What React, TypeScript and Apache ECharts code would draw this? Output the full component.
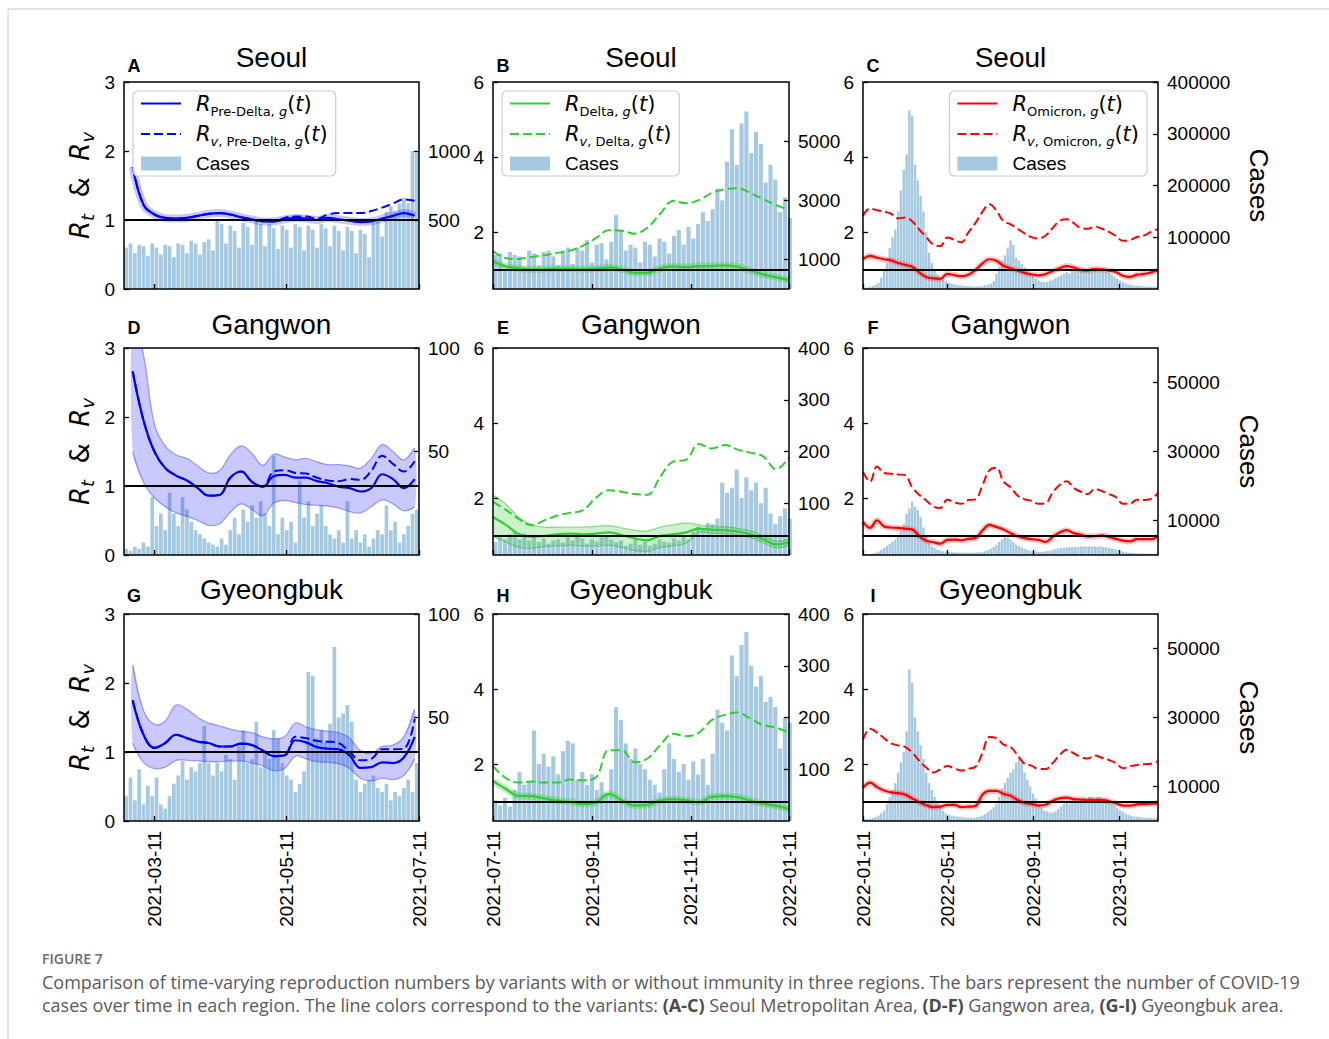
import React, { useEffect, useRef } from 'react';
import * as echarts from 'echarts';

const DAY = 86400000;
const ts = (s: string) => { const [y, m, d] = s.split('-').map(Number); return Date.UTC(y, m - 1, d); };
const fmtDate = (v: number) => { const d = new Date(v); const p = (n: number) => String(n).padStart(2, '0'); return `${d.getUTCFullYear()}-${p(d.getUTCMonth() + 1)}-${p(d.getUTCDate())}`; };

// ---------- x ranges and date ticks ----------
const rangePreDelta = ['2021-02-25', '2021-07-11'];
const rangeDelta = ['2021-07-11', '2022-01-11'];
const rangeOmicron = ['2022-01-11', '2023-03-07'];
const ticksPreDelta = ['2021-03-11', '2021-05-11', '2021-07-11'];
const ticksDelta = ['2021-07-11', '2021-09-11', '2021-11-11', '2022-01-11'];
const ticksOmicron = ['2022-01-11', '2022-05-11', '2022-09-11', '2023-01-11'];

// sampling of the read values (start date, step in days)
const barStartPreDelta = '2021-02-25'; const barStepPreDelta = 2;
const barStartDelta = '2021-07-11'; const barStepDelta = 3;
const barStartOmicron = '2022-01-11'; const barStepOmicron = 4;
const lineStartPreDelta = '2021-03-01'; const lineStepPreDelta = 5;
const lineStartDelta = '2021-07-11'; const lineStepDelta = 8;
const lineStartOmicron = '2022-01-11'; const lineStepOmicron = 10;

// ---------- y ticks ----------
const rTicksPreDelta = [0, 1, 2, 3];
const rTicksLater = [2, 4, 6];
const caseTicksA = [500, 1000];
const caseTicksDG = [50, 100];
const caseTicksB = [1000, 3000, 5000];
const caseTicksEH = [100, 200, 300, 400];
const caseTicksC = [100000, 200000, 300000, 400000];
const caseTicksFI = [10000, 30000, 50000];

// ---------- cases (bars) ----------
const casesA = [300,330,260,320,310,240,330,300,250,320, 310,230,330,320,260,350,330,250,340,360, 280,500,470,330,460,420,300,480,450,320, 500,470,310,470,440,290,460,430,300,470, 450,280,460,430,300,470,440,310,460,420, 280,450,420,260,430,400,230,480,500,380, 560,600,560,620,660,620,1000,990];
const casesD = [3,2,4,3,6,4,28,14,20,12, 30,20,14,28,22,16,12,10,8,6, 5,4,8,5,12,18,10,22,16,24, 18,26,20,14,48,10,18,12,16,6, 36,18,26,14,20,24,14,10,8,12, 6,26,8,12,6,10,4,8,12,10, 24,12,16,6,10,14,20,22];
const casesG = [12,21,10,25,8,17,12,21,8,6, 12,18,22,29,20,26,24,28,46,28, 22,28,24,32,30,20,36,44,28,30, 48,26,34,30,44,40,28,22,20,14, 18,24,72,70,40,44,38,47,84,50, 52,56,48,20,14,18,20,22,16,14, 18,10,14,12,16,20,14,28];
const casesB = [1150,1200,700,1250,1150,1100,750,1300,1200,800, 1250,1300,1100,800,1300,1400,850,1400,1300,1650, 900,1500,1550,1000,1600,2500,2000,1300,1500,1400, 900,1600,1500,1100,1700,1600,1200,1800,2000,1500, 2100,1700,2200,2600,2300,2700,3400,3000,4300,5400, 4200,5600,6000,4600,5300,4900,3600,4200,3700,2600, 3100,2400];
const casesE = [25,35,30,40,45,30,42,28,35,25, 32,22,28,30,24,36,28,40,32,22, 30,26,34,36,30,25,28,18,22,30, 20,26,18,22,30,26,24,32,28,36, 30,45,55,50,62,60,70,140,120,130, 165,110,150,125,140,100,130,80,60,75, 90,70];
const casesH = [40,30,45,28,60,95,70,75,175,110, 130,105,125,90,135,155,150,80,95,70, 90,60,75,50,100,220,195,150,120,140, 110,100,80,70,55,100,150,120,95,110, 80,115,90,120,70,130,215,190,175,320, 280,340,365,300,260,280,230,240,220,140, 200,190];
const casesC = [2000,3000,4000,6000,8000,12000,22000,35000,50000,80000, 100000,115000,150000,190000,230000,260000,345000,335000,240000,210000, 180000,150000,110000,70000,50000,35000,28000,22000,18000,15000, 13000,10000,9000,8000,7000,6500,6000,5500,5000,5000, 5000,5500,6000,7000,8000,10000,15000,30000,42000,55000, 65000,80000,94000,85000,60000,55000,48000,42000,35000,30000, 25000,20000,16000,14000,13000,14000,16000,18000,21000,24000, 27000,30000,33000,30000,35000,37000,34000,38000,40000,36000, 40000,42000,38000,40000,38000,36000,36000,32000,28000,24000, 20000,16000,13000,11000,9000,8000,7000,6500,6000,5500, 5000,5000,4500,4500,4000];
const casesF = [200,250,300,400,600,1000,1500,2000,2600,3200, 3800,4400,5500,7000,9000,12000,13500,15500,14000,13000, 11000,8000,5500,3500,2500,2000,1600,1300,1100,1000, 900,800,800,700,700,700,700,700,700,700, 700,800,900,1100,1400,1800,2300,3000,3800,4500, 5500,5000,4500,3800,3000,2600,2200,1800,1500,1300, 1100,1000,900,900,1000,1100,1300,1500,1700,1900, 2000,2100,2200,2300,2200,2400,2300,2500,2400,2500, 2500,2400,2500,2400,2500,2300,2300,2100,1900,1700, 1400,1200,1000,800,700,600,600,500,500,500, 400,400,400,400,400];
const casesI = [500,600,700,900,1200,1600,2200,3000,5000,7000, 9000,11000,14000,17000,20000,26000,44000,40000,30000,26000, 22000,18000,14000,11000,9000,7000,5500,4500,3000,2200, 1800,1600,1400,1300,1200,1100,1000,1000,1000,1000, 1100,1300,1600,2000,2600,3200,4000,5000,7000,9500, 11000,12500,14000,15000,17000,19000,17000,14000,12000,10000, 8000,6500,5000,4000,3000,2800,2500,2500,2800,3500, 4200,5000,5500,5000,6000,6200,5800,6500,6800,6200, 7000,7000,6500,7000,6800,6200,6500,5800,5000,4500, 3800,3200,2700,2200,1800,1500,1300,1200,1100,1000, 1000,900,900,800,800];

// ---------- reproduction numbers ----------
const rA = [1.77,1.22,1.08,1.03,1.02,1.03,1.06,1.09,1.10,1.08,1.04,1.01,0.98,0.98,1.01,1.03,1.02,1.00,1.03,1.01,0.99,0.97,0.98,1.02,1.06,1.10,1.06];
const rvA = [1.77,1.22,1.08,1.03,1.02,1.03,1.06,1.09,1.10,1.08,1.04,1.01,0.98,0.98,1.03,1.05,1.05,1.02,1.08,1.10,1.10,1.10,1.13,1.18,1.24,1.30,1.28];
const rD = [2.66,1.95,1.50,1.26,1.15,1.08,0.97,0.86,0.87,1.12,1.21,1.06,0.99,1.14,1.16,1.12,1.12,1.07,1.04,0.99,0.97,0.92,0.97,1.17,1.10,0.97,1.10];
const rvD = [2.66,1.95,1.50,1.26,1.15,1.08,0.97,0.86,0.87,1.12,1.21,1.06,0.99,1.21,1.23,1.19,1.18,1.12,1.08,1.07,1.10,1.09,1.22,1.44,1.32,1.21,1.36];
const hiD = [3.5,2.9,1.9,1.58,1.45,1.40,1.29,1.19,1.22,1.45,1.58,1.47,1.30,1.46,1.42,1.38,1.40,1.35,1.31,1.31,1.29,1.26,1.40,1.60,1.50,1.38,1.55];
const loD = [1.50,1.05,0.83,0.70,0.61,0.56,0.50,0.43,0.45,0.62,0.74,0.66,0.57,0.75,0.79,0.76,0.73,0.72,0.71,0.68,0.63,0.61,0.70,0.80,0.74,0.64,0.70];
const rG = [1.75,1.25,1.06,1.13,1.25,1.20,1.15,1.13,1.08,1.08,1.12,1.10,1.02,0.94,0.95,1.17,1.14,1.07,1.05,1.04,0.95,0.77,0.78,0.85,0.84,0.92,1.22];
const rvG = [1.75,1.25,1.06,1.13,1.25,1.20,1.15,1.13,1.08,1.08,1.12,1.10,1.02,0.94,0.95,1.22,1.20,1.16,1.15,1.13,1.00,0.88,0.90,1.04,1.04,1.05,1.48];
const hiG = [2.26,1.60,1.40,1.45,1.68,1.62,1.50,1.42,1.38,1.33,1.30,1.28,1.22,1.19,1.22,1.42,1.36,1.32,1.30,1.28,1.20,1.02,0.98,1.08,1.10,1.22,1.62];
const loG = [1.13,0.85,0.76,0.78,0.88,0.88,0.87,0.86,0.86,0.87,0.87,0.84,0.80,0.73,0.76,0.94,0.90,0.86,0.85,0.83,0.76,0.62,0.58,0.62,0.60,0.66,0.90];

const rB = [1.24,1.10,1.05,1.02,1.03,1.04,1.04,1.03,1.04,1.07,1.02,0.93,0.93,1.05,1.10,1.08,1.11,1.11,1.13,1.09,0.99,0.89,0.81,0.74];
const rvB = [1.51,1.32,1.30,1.35,1.40,1.46,1.52,1.65,1.85,2.06,2.05,1.97,2.13,2.50,2.84,2.78,2.86,3.05,3.15,3.18,3.05,2.89,2.73,2.60];
const rE = [1.51,1.30,1.06,0.98,1.01,1.05,1.07,1.05,1.07,1.10,1.03,0.94,0.89,1.01,1.05,1.10,1.20,1.17,1.16,1.12,1.05,0.92,0.78,0.84];
const rvE = [1.91,1.70,1.46,1.29,1.42,1.55,1.62,1.69,2.02,2.22,2.18,2.12,2.10,2.58,2.98,3.03,3.45,3.33,3.42,3.30,3.22,3.12,2.78,3.10];
const hiE = [2.08,1.85,1.50,1.30,1.24,1.24,1.24,1.24,1.26,1.28,1.22,1.16,1.14,1.24,1.30,1.35,1.30,1.26,1.25,1.21,1.14,1.01,0.87,0.92];
const loE = [1.00,0.85,0.70,0.68,0.72,0.74,0.76,0.74,0.74,0.76,0.70,0.62,0.60,0.70,0.74,0.82,1.10,1.08,1.07,1.03,0.96,0.83,0.69,0.76];
const rH = [1.56,1.35,1.17,1.16,1.10,1.04,1.01,0.95,0.99,1.22,1.05,0.91,0.93,1.04,1.08,1.05,1.00,1.14,1.16,1.13,1.04,0.96,0.90,0.82];
const rvH = [1.96,1.64,1.52,1.55,1.52,1.52,1.60,1.58,1.66,2.38,2.38,2.06,2.16,2.52,2.82,2.75,2.85,3.18,3.32,3.38,3.22,3.05,2.98,2.85];

const rC = [1.29,1.38,1.33,1.29,1.26,1.19,1.14,1.09,0.94,0.82, 0.78,0.77,0.90,0.87,0.84,0.88,1.00,1.18,1.29,1.25, 1.12,1.05,0.99,0.93,0.89,0.86,0.90,0.98,1.05,1.11, 1.07,1.01,0.99,1.03,1.02,0.99,0.95,0.85,0.82,0.88, 0.90,0.94,0.99];
const rvC = [2.44,2.64,2.59,2.55,2.50,2.38,2.40,2.30,2.08,1.88, 1.68,1.64,1.87,1.81,1.74,2.00,2.25,2.55,2.75,2.58, 2.30,2.22,2.10,1.98,1.88,1.84,1.92,2.12,2.31,2.35, 2.25,2.12,2.10,2.16,2.10,2.02,1.91,1.78,1.80,1.88, 1.92,2.02,2.09];
const rF = [1.38,1.22,1.42,1.26,1.23,1.22,1.20,1.18,1.00,0.88, 0.84,0.80,0.90,0.91,0.89,0.93,0.95,1.15,1.30,1.24, 1.18,1.08,1.00,0.95,0.92,0.90,0.85,0.98,1.10,1.16, 1.08,1.04,0.99,1.00,1.02,0.98,0.93,0.88,0.86,0.92, 0.92,0.92,0.99];
const rvF = [2.71,2.45,2.85,2.68,2.66,2.64,2.62,2.30,2.10,1.95, 1.79,1.75,1.97,1.90,1.86,1.96,1.98,2.35,2.75,2.82, 2.45,2.30,2.08,1.98,1.94,1.86,1.88,2.16,2.36,2.46, 2.28,2.18,2.12,2.25,2.20,2.12,2.04,1.86,1.86,1.97, 1.96,1.99,2.14];
const rI = [1.38,1.52,1.40,1.31,1.26,1.24,1.20,1.10,1.00,0.92, 0.87,0.88,0.93,0.93,0.87,0.88,0.90,1.20,1.30,1.30, 1.22,1.17,1.06,0.98,0.95,0.91,0.93,1.04,1.10,1.12, 1.08,1.07,1.06,1.06,1.06,1.03,0.97,0.91,0.91,0.94, 0.95,0.96,0.97];
const rvI = [2.66,2.95,2.85,2.70,2.56,2.51,2.47,2.32,2.10,1.92, 1.79,1.87,1.96,1.90,1.84,1.89,1.94,2.30,2.73,2.70, 2.53,2.47,2.25,2.02,1.97,1.88,1.88,2.04,2.25,2.39, 2.30,2.20,2.16,2.24,2.18,2.12,2.04,1.90,1.96,1.99, 2.01,2.02,2.09];

const regions = ['Seoul', 'Gangwon', 'Gyeongbuk'];
const variants = ['Pre-Delta', 'Delta', 'Omicron'];

// ---------- layout / style ----------
const W = 1329, H = 1039;
const gridLeft = [124, 493, 863];
const gridWidth = [295, 296, 295];
const gridTop = [82, 348, 614];
const gridHeight = 207;
const titleY = [57, 324, 589];
const letterY = [66, 328, 596];
const casesLabelX = [1259, 1249, 1249];
const BAR_COLOR = '#a5c9e1';
const FONT = 'Liberation Sans, Arial, sans-serif';
const MATH = 'DejaVu Sans, sans-serif';
const SMOOTH = 0.4;

const colStyle = [
  { color: '#0000ff', halo: 'rgba(0,0,255,0.22)', fill: 'rgba(40,40,255,0.25)', edge: 'rgba(60,60,255,0.45)', haloW: 8 },
  { color: '#33cc33', halo: 'rgba(50,205,50,0.32)', fill: 'rgba(50,205,50,0.25)', edge: 'rgba(50,190,50,0.5)', haloW: 7 },
  { color: '#ff0000', halo: 'rgba(255,0,0,0.22)', fill: 'rgba(255,0,0,0.2)', edge: 'rgba(255,0,0,0.3)', haloW: 6 },
];

const columns = [
  { range: rangePreDelta, ticks: ticksPreDelta, barStart: barStartPreDelta, barStep: barStepPreDelta, lineStart: lineStartPreDelta, lineStep: lineStepPreDelta, yMin: 0, yMax: 3, yTicks: rTicksPreDelta },
  { range: rangeDelta, ticks: ticksDelta, barStart: barStartDelta, barStep: barStepDelta, lineStart: lineStartDelta, lineStep: lineStepDelta, yMin: 0.5, yMax: 6, yTicks: rTicksLater },
  { range: rangeOmicron, ticks: ticksOmicron, barStart: barStartOmicron, barStep: barStepOmicron, lineStart: lineStartOmicron, lineStep: lineStepOmicron, yMin: 0.5, yMax: 6, yTicks: rTicksLater },
];

const panels = [
  { letter: 'A', row: 0, col: 0, cases: casesA, r: rA, rv: rvA, lo: null, hi: null, caseMax: 1500, caseTicks: caseTicksA },
  { letter: 'B', row: 0, col: 1, cases: casesB, r: rB, rv: rvB, lo: null, hi: null, caseMax: 7000, caseTicks: caseTicksB },
  { letter: 'C', row: 0, col: 2, cases: casesC, r: rC, rv: rvC, lo: null, hi: null, caseMax: 400000, caseTicks: caseTicksC },
  { letter: 'D', row: 1, col: 0, cases: casesD, r: rD, rv: rvD, lo: loD, hi: hiD, caseMax: 100, caseTicks: caseTicksDG },
  { letter: 'E', row: 1, col: 1, cases: casesE, r: rE, rv: rvE, lo: loE, hi: hiE, caseMax: 400, caseTicks: caseTicksEH },
  { letter: 'F', row: 1, col: 2, cases: casesF, r: rF, rv: rvF, lo: null, hi: null, caseMax: 60000, caseTicks: caseTicksFI },
  { letter: 'G', row: 2, col: 0, cases: casesG, r: rG, rv: rvG, lo: loG, hi: hiG, caseMax: 100, caseTicks: caseTicksDG },
  { letter: 'H', row: 2, col: 1, cases: casesH, r: rH, rv: rvH, lo: null, hi: null, caseMax: 400, caseTicks: caseTicksEH },
  { letter: 'I', row: 2, col: 2, cases: casesI, r: rI, rv: rvI, lo: null, hi: null, caseMax: 60000, caseTicks: caseTicksFI },
];

const toPairs = (start: string, step: number, vals: number[], offset = 0) => {
  const t0 = ts(start);
  return vals.map((v, i) => [t0 + (i * step + offset) * DAY, v]);
};

const legendRich: any = {
  g: { width: 10 },
  i: { fontFamily: MATH, fontStyle: 'italic', fontSize: 21, lineHeight: 28, color: '#000' },
  n: { fontFamily: MATH, fontSize: 21, lineHeight: 28, color: '#000' },
  s: { fontFamily: MATH, fontSize: 13, lineHeight: 14, verticalAlign: 'bottom', color: '#000' },
  si: { fontFamily: MATH, fontStyle: 'italic', fontSize: 13, lineHeight: 14, verticalAlign: 'bottom', color: '#000' },
  c: { fontFamily: FONT, fontSize: 19, lineHeight: 28, color: '#000' },
};

function buildOption() {
  const grid: any[] = [], xAxis: any[] = [], yAxis: any[] = [], series: any[] = [], legend: any[] = [];
  panels.forEach((p, idx) => {
    const c = columns[p.col];
    const st = colStyle[p.col];
    grid.push({ left: gridLeft[p.col], top: gridTop[p.row], width: gridWidth[p.col], height: gridHeight, show: true, borderColor: '#000', borderWidth: 1.5, backgroundColor: 'transparent', z: 10 });
    const tickVals = c.ticks.map(ts);
    xAxis.push({
      type: 'value', gridIndex: idx, min: ts(c.range[0]), max: ts(c.range[1]), z: 10, scale: true,
      axisLine: { show: false }, splitLine: { show: false },
      axisTick: { show: true, inside: true, length: 5, customValues: tickVals, lineStyle: { color: '#000', width: 1.3 } },
      axisLabel: { show: p.row === 2, customValues: tickVals, formatter: (v: number) => fmtDate(v), rotate: 90, fontSize: 19, margin: 10, color: '#000', fontFamily: FONT, showMinLabel: true, showMaxLabel: true, hideOverlap: false },
    });
    yAxis.push({
      type: 'value', gridIndex: idx, min: c.yMin, max: c.yMax, position: 'left', z: 10,
      axisLine: { show: false }, splitLine: { show: false },
      axisTick: { show: true, inside: true, length: 5, customValues: c.yTicks, lineStyle: { color: '#000', width: 1.3 } },
      axisLabel: { customValues: c.yTicks, formatter: (v: number) => String(v), fontSize: 19, color: '#000', margin: 9, fontFamily: FONT },
    });
    yAxis.push({
      type: 'value', gridIndex: idx, min: 0, max: p.caseMax, position: 'right', z: 10,
      axisLine: { show: false }, splitLine: { show: false },
      axisTick: { show: true, inside: true, length: 5, customValues: p.caseTicks, lineStyle: { color: '#000', width: 1.3 } },
      axisLabel: { customValues: p.caseTicks, formatter: (v: number) => String(v), fontSize: 19, color: '#000', margin: 9, fontFamily: FONT },
    });
    const totalDays = (ts(c.range[1]) - ts(c.range[0])) / DAY;
    const pxPerDay = gridWidth[p.col] / totalDays;
    series.push({
      type: 'bar', name: 'Cases' + p.letter, xAxisIndex: idx, yAxisIndex: 2 * idx + 1,
      data: toPairs(c.barStart, c.barStep, p.cases, c.barStep / 2),
      barWidth: c.barStep * pxPerDay * 0.86, itemStyle: { color: BAR_COLOR }, z: 1, silent: true,
    });
    if (p.lo && p.hi) {
      const t0 = ts(c.lineStart);
      const lo = p.lo, hi = p.hi;
      const bandData = lo.map((l, i) => [t0 + i * c.lineStep * DAY, l, hi[i]]);
      series.push({
        type: 'custom', name: 'band' + p.letter, xAxisIndex: idx, yAxisIndex: 2 * idx, silent: true, z: 2,
        data: bandData, encode: { x: 0, y: [1, 2] },
        renderItem: (params: any, api: any) => {
          if (params.dataIndex !== 0) return null;
          const up = bandData.map((d) => api.coord([d[0], d[2]]));
          const dn = bandData.map((d) => api.coord([d[0], d[1]]));
          const cs = params.coordSys;
          return {
            type: 'group',
            clipPath: { type: 'rect', shape: { x: cs.x, y: cs.y, width: cs.width, height: cs.height } },
            children: [
              { type: 'polygon', shape: { points: up.concat(dn.slice().reverse()), smooth: 0.3 }, style: { fill: st.fill, stroke: 'none' } },
              { type: 'polyline', shape: { points: up, smooth: SMOOTH }, style: { stroke: st.edge, lineWidth: 1.3, fill: 'none' } },
              { type: 'polyline', shape: { points: dn, smooth: SMOOTH }, style: { stroke: st.edge, lineWidth: 1.3, fill: 'none' } },
            ],
          };
        },
      });
    } else {
      series.push({
        type: 'line', name: 'halo' + p.letter, xAxisIndex: idx, yAxisIndex: 2 * idx,
        data: toPairs(c.lineStart, c.lineStep, p.r), symbol: 'none', smooth: SMOOTH,
        lineStyle: { color: st.halo, width: st.haloW }, z: 2, silent: true,
      });
    }
    series.push({
      type: 'line', name: 'Rv' + p.letter, xAxisIndex: idx, yAxisIndex: 2 * idx,
      data: toPairs(c.lineStart, c.lineStep, p.rv), symbol: 'none', showSymbol: false, smooth: SMOOTH,
      itemStyle: { color: st.color },
      lineStyle: { color: st.color, width: 2, type: [9, 4] }, z: 4, silent: true,
    });
    series.push({
      type: 'line', name: 'R' + p.letter, xAxisIndex: idx, yAxisIndex: 2 * idx,
      data: toPairs(c.lineStart, c.lineStep, p.r), symbol: 'none', showSymbol: false, smooth: SMOOTH,
      itemStyle: { color: st.color },
      lineStyle: { color: st.color, width: 2.2 }, z: 4, silent: true,
      markLine: { silent: true, symbol: ['none', 'none'], label: { show: false }, lineStyle: { color: '#000', width: 2, type: 'solid' }, data: [{ yAxis: 1 }], animation: false },
    });
    if (p.row === 0) {
      const v = variants[p.col];
      const texts: any = {};
      texts['R' + p.letter] = `{g| }{i|R}{s|${v}, }{si|g}{n|(}{i|t}{n|)}`;
      texts['Rv' + p.letter] = `{g| }{i|R}{si|v}{s|, ${v}, }{si|g}{n|(}{i|t}{n|)}`;
      texts['Cases' + p.letter] = `{g| }{c|Cases}`;
      const pos: any = p.col === 2 ? { right: 182 } : { left: p.col === 0 ? 133 : 502 };
      const hideSymbol = { opacity: 0, borderWidth: 0 };
      legend.push({
        ...pos, top: 91, orient: 'vertical', selectedMode: false, z: 20,
        data: [
          { name: 'R' + p.letter, itemStyle: hideSymbol },
          { name: 'Rv' + p.letter, itemStyle: hideSymbol },
          { name: 'Cases' + p.letter, icon: 'rect' },
        ],
        formatter: (name: string) => texts[name],
        textStyle: { rich: legendRich },
        itemWidth: 40, itemHeight: 14, itemGap: 6,
        padding: [2, 8, 3, 7],
        backgroundColor: 'rgba(255,255,255,0.85)', borderColor: '#cccccc', borderWidth: 1.2, borderRadius: 5,
      });
    }
  });

  const graphic: any[] = [];
  graphic.push({ type: 'line', shape: { x1: 8, y1: 9, x2: W, y2: 9 }, style: { stroke: '#c8c8c8', lineWidth: 1 }, silent: true });
  graphic.push({ type: 'line', shape: { x1: 8, y1: 9, x2: 8, y2: H }, style: { stroke: '#c8c8c8', lineWidth: 1 }, silent: true });
  for (let row = 0; row < 3; row++) {
    for (let col = 0; col < 3; col++) {
      const letter = 'ABCDEFGHI'[row * 3 + col];
      graphic.push({ type: 'text', x: gridLeft[col] + gridWidth[col] / 2, y: titleY[row], style: { text: regions[row], font: `28px ${FONT}`, fill: '#000', align: 'center', verticalAlign: 'middle' } });
      graphic.push({ type: 'text', x: gridLeft[col] + 10, y: letterY[row], style: { text: letter, font: `bold 18px ${FONT}`, fill: '#000', align: 'center', verticalAlign: 'middle' } });
    }
    const cy = gridTop[row] + gridHeight / 2;
    graphic.push({
      type: 'text', x: 80, y: cy, rotation: Math.PI / 2,
      style: {
        text: '{i|R}{s|t}{n|  &  }{i|R}{s|v}', align: 'center', verticalAlign: 'middle',
        rich: {
          i: { fontFamily: MATH, fontStyle: 'italic', fontSize: 26, lineHeight: 32, fill: '#000' },
          n: { fontFamily: MATH, fontSize: 26, lineHeight: 32, fill: '#000' },
          s: { fontFamily: MATH, fontStyle: 'italic', fontSize: 18, lineHeight: 18, verticalAlign: 'bottom', fill: '#000' },
        },
      },
    });
    graphic.push({ type: 'text', x: casesLabelX[row], y: cy, rotation: -Math.PI / 2, style: { text: 'Cases', font: `26px ${FONT}`, fill: '#000', align: 'center', verticalAlign: 'middle' } });
  }
  const CAP = 'Open Sans, Lato, sans-serif';
  graphic.push({ type: 'text', x: 42, y: 958, style: { text: 'FIGURE 7', font: `600 14px ${CAP}`, fill: '#6b6b6b', verticalAlign: 'middle' } });
  graphic.push({ type: 'text', x: 42, y: 982, style: { text: 'Comparison of time-varying reproduction numbers by variants with or without immunity in three regions. The bars represent the number of COVID-19', font: `18px ${CAP}`, fill: '#5a5a5a', verticalAlign: 'middle' } });
  graphic.push({
    type: 'text', x: 42, y: 1005,
    style: {
      text: 'cases over time in each region. The line colors correspond to the variants: {b|(A-C)} Seoul Metropolitan Area, {b|(D-F)} Gangwon area, {b|(G-I)} Gyeongbuk area.',
      font: `18px ${CAP}`, fill: '#5a5a5a', verticalAlign: 'middle',
      rich: { b: { fontFamily: CAP, fontSize: 18, fontWeight: 'bold', fill: '#4a4a4a' } },
    },
  });

  return { animation: false, backgroundColor: '#ffffff', textStyle: { fontFamily: FONT }, grid, xAxis, yAxis, series, legend, graphic };
}

export default function App() {
  const ref = useRef<HTMLDivElement>(null);
  useEffect(() => {
    const chart = echarts.init(ref.current as HTMLDivElement, null, { renderer: 'svg' });
    chart.setOption(buildOption() as any);
    return () => chart.dispose();
  }, []);
  return <div ref={ref} style={{ position: 'absolute', left: 0, top: 0, width: W, height: H, background: '#fff' }} />;
}
